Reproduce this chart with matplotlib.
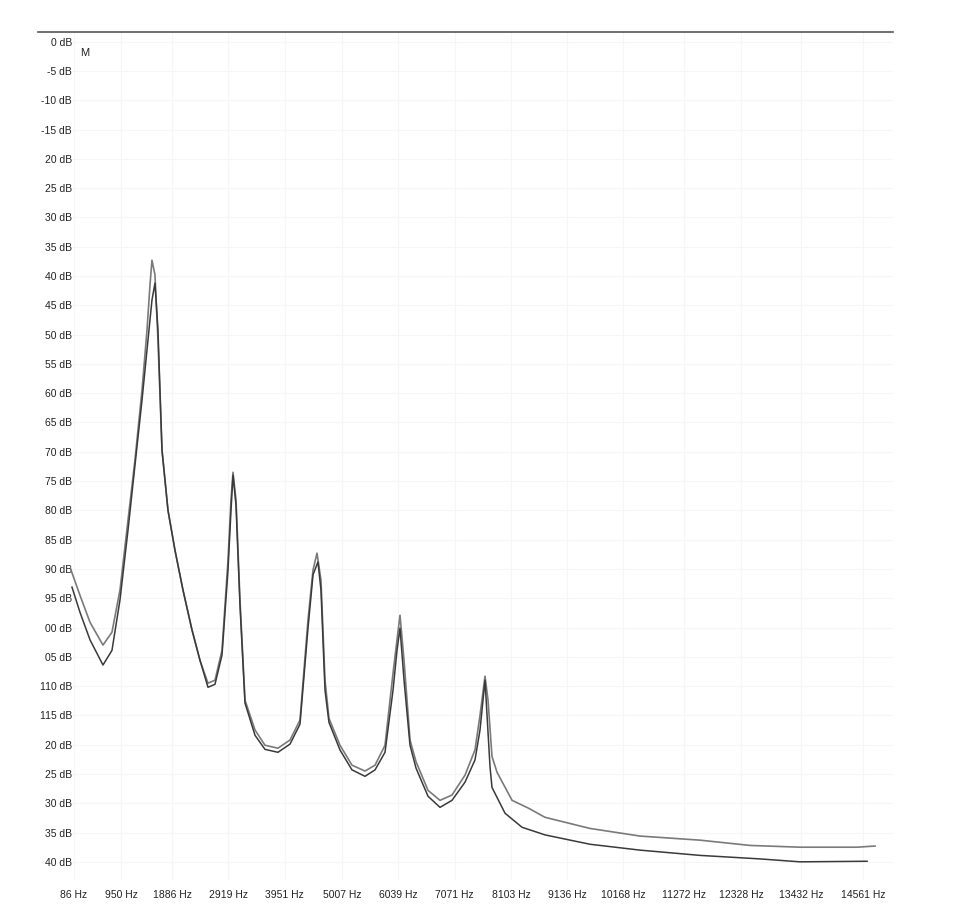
import matplotlib
matplotlib.use('Agg')
import matplotlib.pyplot as plt
from matplotlib.lines import Line2D

plt.rcParams['font.family'] = ['Liberation Sans', 'DejaVu Sans']

# x tick frequencies (Hz) and their labels
freq_ticks = [86, 950, 1886, 2919, 3951, 5007, 6039, 7071, 8103, 9136,
              10168, 11272, 12328, 13432, 14561]
freq_labels = ['86 Hz', '950 Hz', '1886 Hz', '2919 Hz', '3951 Hz', '5007 Hz',
               '6039 Hz', '7071 Hz', '8103 Hz', '9136 Hz', '10168 Hz',
               '11272 Hz', '12328 Hz', '13432 Hz', '14561 Hz']

# y ticks (dB) and the labels as they appear (clipped in the original)
db_ticks = [0, -5, -10, -15, -20, -25, -30, -35, -40, -45, -50, -55, -60, -65,
            -70, -75, -80, -85, -90, -95, -100, -105, -110, -115, -120, -125,
            -130, -135, -140]
db_labels = ['0 dB', '-5 dB', '-10 dB', '-15 dB', '20 dB', '25 dB', '30 dB',
             '35 dB', '40 dB', '45 dB', '50 dB', '55 dB', '60 dB', '65 dB',
             '70 dB', '75 dB', '80 dB', '85 dB', '90 dB', '95 dB', '00 dB',
             '05 dB', '110 dB', '115 dB', '20 dB', '25 dB', '30 dB', '35 dB',
             '40 dB']

# spectrum 1 (upper in the troughs / tail)
freq_a = [13, 196, 380, 618, 783, 930, 1077, 1205, 1334, 1426, 1481, 1517,
          1572, 1627, 1701, 1811, 1939, 2086, 2251, 2398, 2545, 2673, 2802,
          2912, 2967, 3004, 3059, 3132, 3224, 3408, 3591, 3829, 4050, 4233,
          4380, 4472, 4545, 4618, 4692, 4765, 4967, 5187, 5426, 5610, 5793,
          5940, 6013, 6068, 6142, 6252, 6362, 6582, 6802, 7022, 7261, 7444,
          7536, 7628, 7683, 7756, 7848, 8124, 8417, 8729, 9555, 10472, 11573,
          12491, 13408, 14454, 14784]
db_a = [-89.7, -94.5, -99.1, -103.0, -100.8, -93.6, -81.7, -71.4, -59.5,
        -49.2, -41.5, -37.3, -39.8, -50.9, -69.7, -80.0, -86.8, -93.6, -100.4,
        -105.6, -109.5, -109.0, -103.9, -88.5, -78.2, -73.5, -78.2, -95.3,
        -112.4, -117.5, -120.1, -120.6, -119.2, -115.8, -98.7, -90.2, -87.3,
        -91.9, -109.0, -115.5, -120.1, -123.5, -124.5, -123.5, -120.1, -107.8,
        -102.1, -97.9, -105.6, -119.2, -122.9, -127.8, -129.5, -128.6, -125.2,
        -120.9, -115.0, -108.3, -112.4, -122.0, -124.7, -129.5, -130.8, -132.4,
        -134.3, -135.6, -136.3, -137.2, -137.5, -137.5, -137.3]

# spectrum 2 (lower in the troughs / tail)
freq_b = [49, 196, 380, 618, 783, 930, 1077, 1205, 1334, 1444, 1517, 1572,
          1627, 1701, 1811, 1939, 2086, 2251, 2398, 2545, 2673, 2802, 2912,
          2967, 3004, 3059, 3132, 3224, 3408, 3591, 3829, 4050, 4233, 4380,
          4472, 4563, 4618, 4692, 4765, 4967, 5187, 5426, 5610, 5793, 5940,
          6013, 6068, 6142, 6252, 6362, 6582, 6802, 7022, 7261, 7444, 7536,
          7628, 7720, 7756, 7995, 8307, 8729, 9555, 10472, 11573, 12674, 13408,
          14638]
db_b = [-93.1, -97.4, -102.1, -106.4, -103.9, -95.3, -83.4, -72.3, -61.2,
        -50.9, -44.1, -41.2, -49.2, -69.7, -80.0, -86.8, -93.6, -100.4, -105.6,
        -110.2, -109.7, -104.7, -90.2, -80.0, -74.0, -79.1, -96.2, -112.9,
        -118.4, -120.8, -121.3, -119.9, -116.5, -100.1, -91.0, -88.8, -93.6,
        -110.7, -116.2, -120.9, -124.3, -125.4, -124.3, -121.3, -110.7, -103.9,
        -100.1, -109.0, -120.1, -124.0, -128.8, -130.7, -129.5, -126.4, -122.6,
        -117.5, -109.0, -123.8, -127.3, -131.7, -134.1, -135.4, -137.0, -138.0,
        -138.9, -139.5, -140.0, -139.9]

W, H = 960, 913
fig = plt.figure(figsize=(W / 100, H / 100), dpi=100)
ax = fig.add_axes([70 / W, 1 - 880 / H, (893 - 70) / W, (880 - 32) / H])

ax.plot(freq_a, db_a, color='#7a7a7a', lw=1.2)
ax.plot(freq_b, db_b, color='#3a3a3a', lw=1.1)

ax.set_xlim(13, 15114)
ax.set_ylim(-143.1, 1.66)
ax.set_xticks(freq_ticks)
ax.set_xticklabels(freq_labels)
ax.set_yticks(db_ticks)
ax.set_yticklabels(db_labels)
ax.tick_params(length=0, labelsize=7.5, colors='#222222')
ax.tick_params(axis='y', pad=-1.5)
ax.tick_params(axis='x', pad=7)
ax.grid(True, color='#f6f6f6', lw=0.8)
ax.set_axisbelow(True)
for s in ax.spines.values():
    s.set_visible(False)

ax.text(288, -1.9, 'M', fontsize=8, color='#222222', ha='center', va='center')

# top border line, runs further left than the plot
fig.add_artist(Line2D([38 / W, 893 / W], [1 - 32 / H, 1 - 32 / H],
                      color='#555555', lw=1.2))

fig.savefig('out.png', dpi=100)
